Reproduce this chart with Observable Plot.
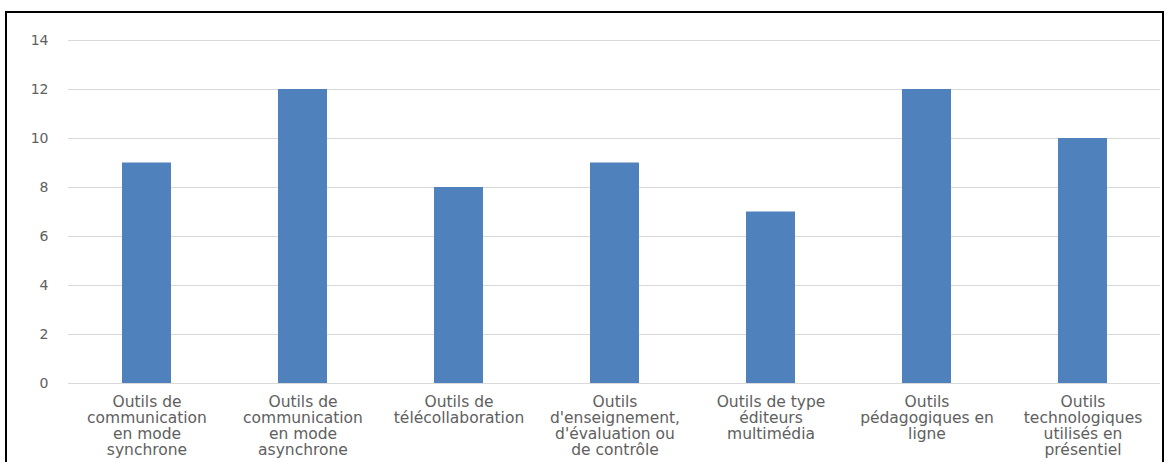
<!DOCTYPE html>
<html>
<head>
<meta charset="utf-8">
<script src="https://cdn.jsdelivr.net/npm/d3@7"></script>
<script src="https://cdn.jsdelivr.net/npm/@observablehq/plot@0.6"></script>
<style>
  html, body { margin: 0; padding: 0; background: #fff; }
  #wrap { position: relative; width: 1167px; height: 462px; overflow: hidden; }
  #chart { position: absolute; left: 0; top: 0; }
  #frame { position: absolute; left: 5px; top: 11px; width: 1159px; height: 470px;
           border: 2px solid #000; box-sizing: border-box; pointer-events: none; }
</style>
</head>
<body>
<div id="wrap">
  <div id="chart"></div>
  <div id="frame"></div>
</div>
<script>
const categories = [
  "Outils de\ncommunication\nen mode\nsynchrone",
  "Outils de\ncommunication\nen mode\nasynchrone",
  "Outils de\ntélécollaboration",
  "Outils\nd'enseignement,\nd'évaluation ou\nde contrôle",
  "Outils de type\néditeurs\nmultimédia",
  "Outils\npédagogiques en\nligne",
  "Outils\ntechnologiques\nutilisés en\nprésentiel"
];
const values = [9, 12, 8, 9, 7, 12, 10];
const yTicks = [0, 2, 4, 6, 8, 10, 12, 14];

const data = categories.map((c, i) => ({category: c, value: values[i]}));

const plot = Plot.plot({
  width: 1167,
  height: 462,
  marginTop: 40,
  marginBottom: 79,
  marginLeft: 68,
  marginRight: 7,
  style: {fontFamily: "'DejaVu Sans', sans-serif", background: "transparent"},
  x: {domain: categories, paddingInner: 0.686, paddingOuter: 0.343},
  y: {domain: [0, 14]},
  marks: [
    Plot.gridY(yTicks, {stroke: "#d9d9d9", strokeOpacity: 1, strokeWidth: 1}),
    Plot.barY(data, {x: "category", y: "value", fill: "#4f81bd"}),
    Plot.axisY(yTicks, {tickSize: 0, tickPadding: 20, fontSize: 14, fill: "#606060", label: null}),
    Plot.axisX({tickSize: 0, tickPadding: 12, fontSize: 15.5, lineHeight: 1.04, fill: "#606060", label: null, textAnchor: "middle"})
  ]
});
document.getElementById("chart").appendChild(plot);
</script>
</body>
</html>
